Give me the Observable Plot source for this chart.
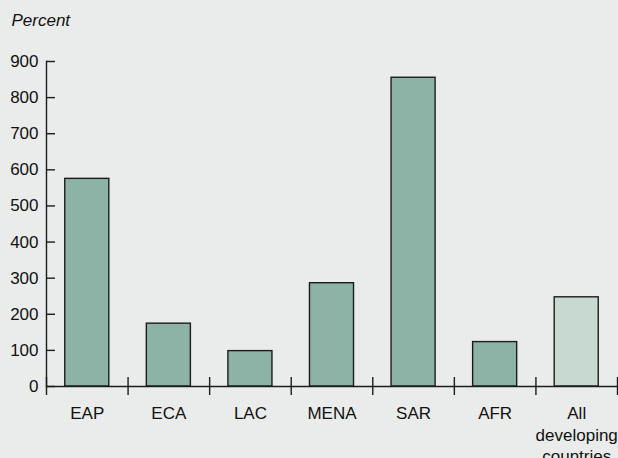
<!DOCTYPE html>
<html>
<head>
<meta charset="utf-8">
<script src="https://cdn.jsdelivr.net/npm/d3@7"></script>
<script src="https://cdn.jsdelivr.net/npm/@observablehq/plot@0.6"></script>
<style>
  html, body { margin: 0; padding: 0; background: #e9ecea; }
  #chart svg { display: block; }
</style>
</head>
<body>
<div id="chart"></div>
<script>
const categories = ["EAP", "ECA", "LAC", "MENA", "SAR", "AFR", "All\ndeveloping\ncountries"];
const values = [575, 174, 98, 286, 855, 123, 247];
const highlight = [false, false, false, false, false, false, true];
const yTicks = [0, 100, 200, 300, 400, 500, 600, 700, 800, 900];
const yLabel = "Percent";

const data = categories.map((c, i) => ({ category: c, value: values[i], all: highlight[i] }));

const W = 618, H = 458;
const mL = 46, mR = 1, mT = 61, mB = 72;
const pIn = 0.46, pOut = 0.23;
const step = (W - mL - mR) / (categories.length - pIn + 2 * pOut);

const font = "'Liberation Sans', Arial, Helvetica, sans-serif";
const fs = 17;

const chart = Plot.plot({
  width: W,
  height: H,
  marginLeft: mL,
  marginRight: mR,
  marginTop: mT,
  marginBottom: mB,
  style: { background: "#e9ecea", fontFamily: font, fontSize: fs + "px", color: "#111" },
  x: { domain: categories, paddingInner: pIn, paddingOuter: pOut, align: 0.5, round: false, label: null },
  y: { domain: [0, 900], label: null },
  marks: [
    Plot.barY(data, {
      x: "category", y: "value",
      fill: d => d.all ? "#c8d9d1" : "#8db3a6",
      stroke: "#1c1c1c", strokeWidth: 1.4
    }),
    // y axis: tick marks pointing inward, labels outside
    Plot.axisY({ ticks: yTicks, tickSize: 9, dx: 9, text: null, stroke: "#1c1c1c", strokeWidth: 1.4 }),
    Plot.axisY({ ticks: yTicks, tickSize: 0, tickPadding: 8, fontSize: fs, fontFamily: font, fill: "#111" }),
    Plot.frame({ anchor: "left", stroke: "#1c1c1c", strokeWidth: 1.4 }),
    Plot.ruleY([0], { stroke: "#1c1c1c", strokeWidth: 1.4 }),
    // category boundary ticks
    Plot.ruleX(categories, { x: d => d, y1: 0, y2: 0, insetTop: -9, insetBottom: -9, dx: -step / 2, stroke: "#1c1c1c", strokeWidth: 1.4 }),
    Plot.ruleX(categories.slice(-1), { x: d => d, y1: 0, y2: 0, insetTop: -9, insetBottom: -9, dx: step / 2, stroke: "#1c1c1c", strokeWidth: 1.4 }),
    // x labels
    Plot.axisX({ tickSize: 0, tickPadding: 17, fontSize: fs, fontFamily: font, lineHeight: 1.28, fill: "#111" }),
    // "Percent" label
    Plot.text([yLabel], {
      frameAnchor: "top-left", text: d => d, dx: -35, dy: -41,
      textAnchor: "start", lineAnchor: "middle",
      fontStyle: "italic", fontSize: fs, fontFamily: font, fill: "#111"
    })
  ]
});

document.getElementById("chart").append(chart);
</script>
</body>
</html>
